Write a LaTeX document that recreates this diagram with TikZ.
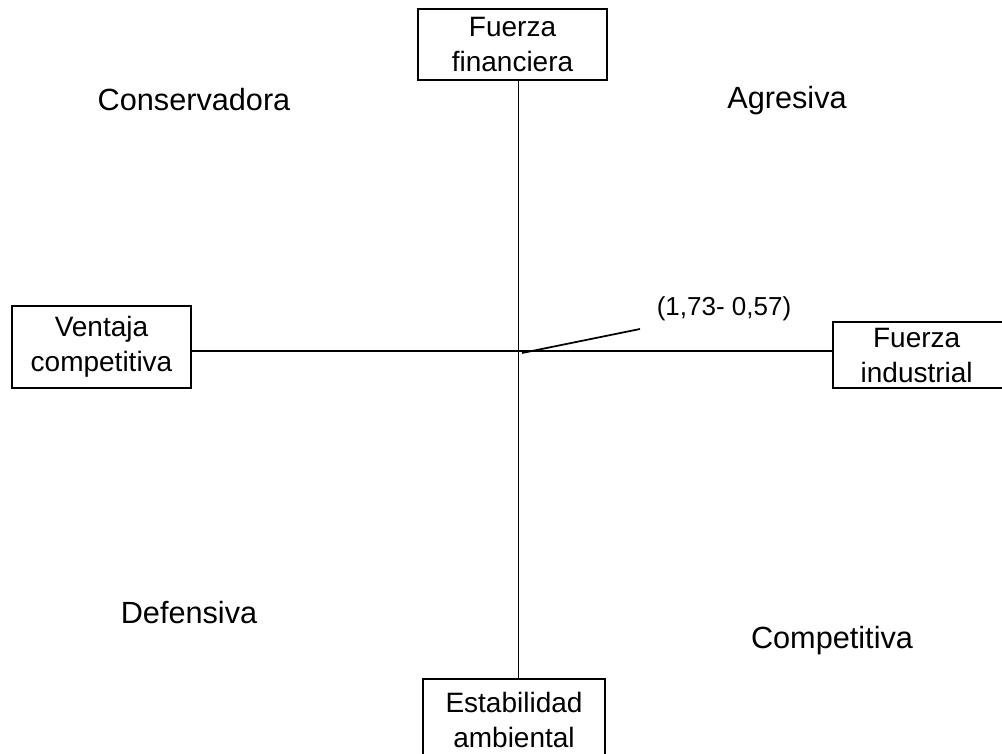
\documentclass[tikz,border=0pt]{standalone}
\usepackage{fontspec}
\setmainfont{Liberation Sans}
\begin{document}
\begin{tikzpicture}[x=0.75pt,y=-0.75pt,
  box/.style={draw,line width=1.3pt,inner sep=0pt,align=center,
    font=\fontsize{21}{26.25}\selectfont},
  quad/.style={anchor=base,inner sep=0pt,font=\fontsize{23}{27}\selectfont},
  axis/.style={line width=1.3pt}]
\useasboundingbox (0,0) rectangle (1002,753);
\node[box,minimum width=141.75pt,minimum height=53.25pt] (top) at (512.5,44.5) {Fuerza\\financiera};
\node[box,minimum width=134.25pt,minimum height=61.5pt] (left) at (101.5,347) {Ventaja\\competitiva};
\node[box,minimum width=140pt,minimum height=49.5pt] (right) at (926,355) {\hbox{Fuerza\kern14pt}\\\hbox{industrial\kern14pt}};
\node[box,minimum width=136.5pt,minimum height=61.5pt] (bot) at (514,720) {Estabilidad\\ambiental};
\coordinate (c) at (518.5,351);
\draw[axis] (top.south -| c) -- (bot.north -| c);
\draw[axis] (left.east |- c) -- (right.west |- c);
\node[quad] (cons) at (194,110) {Conservadora};
\node[quad] (agr) at (787,108) {Agresiva};
\node[quad] (def) at (189,623) {Defensiva};
\node[quad] (comp) at (832,648) {Competitiva};
\node[anchor=base,inner sep=0pt,font=\fontsize{19.5}{23}\selectfont] (lab) at (724,315) {(1,73- 0,57)};
\coordinate (ls) at (522,353);
\coordinate (lt) at (640,329);
\draw[line width=1.3pt] (ls) -- (lt);
\end{tikzpicture}
\end{document}
